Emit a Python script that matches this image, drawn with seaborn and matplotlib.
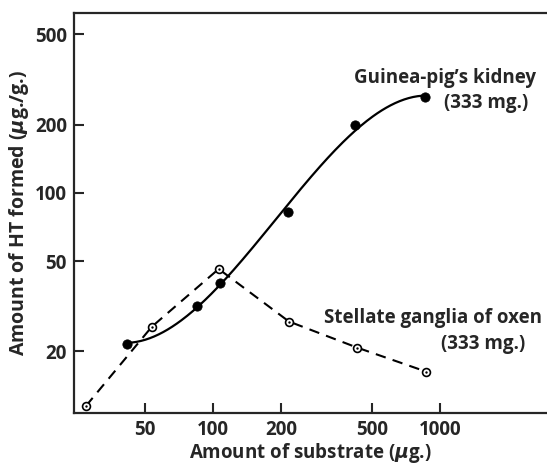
import numpy as np
import pandas as pd
import seaborn as sns
import matplotlib.pyplot as plt

# values (log-log axes)
substrate_kidney = [42, 85, 107, 214, 423, 859]
ht_kidney = [21.6, 31.8, 40.2, 82.5, 199, 265]
substrate_ganglia = [27.6, 53.8, 106, 216, 431, 867]
ht_ganglia = [11.5, 25.7, 46.2, 27.1, 20.8, 16.3]
x_ticks = [50, 100, 200, 500, 1000]
y_ticks = [20, 50, 100, 200, 500]

sns.set_theme(style="ticks")
plt.rcParams["font.family"] = ["Open Sans", "DejaVu Sans"]
plt.rcParams["font.weight"] = "bold"
plt.rcParams["mathtext.fontset"] = "dejavusans"

kidney = pd.DataFrame({"x": substrate_kidney, "y": ht_kidney})
ganglia = pd.DataFrame({"x": substrate_ganglia, "y": ht_ganglia})

# smooth curve for the kidney series: cubic fit in log-log space
coef = np.polyfit(np.log10(kidney.x), np.log10(kidney.y), 3)
lx = np.linspace(np.log10(kidney.x.min()), np.log10(kidney.x.max()), 200)
curve = pd.DataFrame({"x": 10 ** lx, "y": 10 ** np.polyval(coef, lx)})

fig = plt.figure(figsize=(5.47, 4.68), dpi=100)
ax = fig.add_axes([0.135, 0.1175, 0.865, 0.8545])
ax.set_xscale("log")
ax.set_yscale("log")

sns.lineplot(data=curve, x="x", y="y", ax=ax, color="black", linewidth=1.6)
sns.lineplot(data=ganglia, x="x", y="y", ax=ax, color="black", linewidth=1.5,
             linestyle=(0, (5, 3.5)))
sns.scatterplot(data=kidney, x="x", y="y", ax=ax, color="black", s=45,
                edgecolor="black", zorder=5)
sns.scatterplot(data=ganglia, x="x", y="y", ax=ax, color="white", s=32,
                edgecolor="black", linewidth=1.2, zorder=5)
sns.scatterplot(data=ganglia, x="x", y="y", ax=ax, color="black", s=3,
                edgecolor="black", linewidth=0, zorder=6)

ax.set_xlim(24.4, 2958)
ax.set_ylim(10.7, 621)
ax.minorticks_off()
ax.set_xticks(x_ticks)
ax.set_xticklabels([str(v) for v in x_ticks])
ax.set_yticks(y_ticks)
ax.set_yticklabels([str(v) for v in y_ticks])
ax.tick_params(direction="in", length=7, width=1.5, labelsize=13.5, pad=5)
for lab in ax.get_xticklabels() + ax.get_yticklabels():
    lab.set_fontweight("bold")

for side in ["left", "bottom", "top"]:
    ax.spines[side].set_linewidth(1.6)
ax.spines["right"].set_visible(False)

ax.set_xlabel(r"Amount of substrate ($\mu$g.)", fontsize=13.5, fontweight="bold", labelpad=1)
ax.set_ylabel(r"Amount of HT formed ($\mu$g./g.)", fontsize=14, fontweight="bold", labelpad=3)

ax.text(2650, 322, "Guinea-pig\u2019s kidney", ha="right", va="center", fontsize=13.5, fontweight="bold")
ax.text(2450, 250, "(333 mg.)", ha="right", va="center", fontsize=13.5, fontweight="bold")
ax.text(2800, 28.1, "Stellate ganglia of oxen", ha="right", va="center", fontsize=13.5, fontweight="bold")
ax.text(2380, 21.6, "(333 mg.)", ha="right", va="center", fontsize=13.5, fontweight="bold")

fig.savefig("out.png", dpi=100)
